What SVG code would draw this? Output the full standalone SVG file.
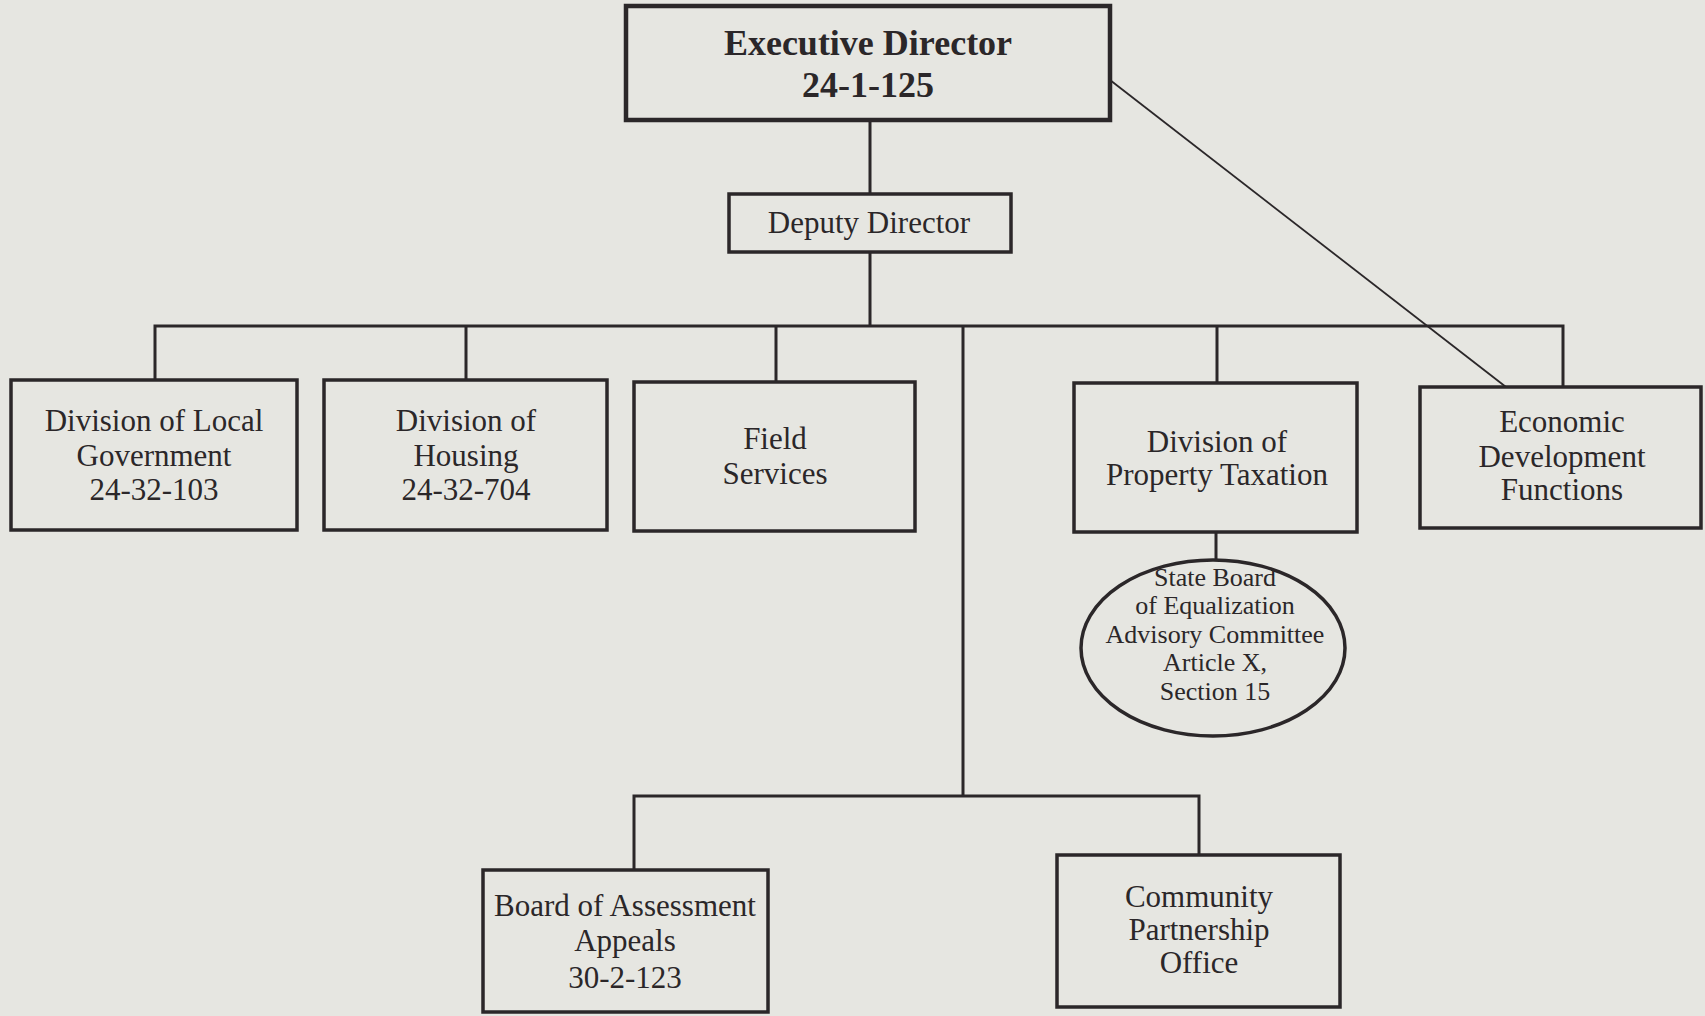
<svg xmlns="http://www.w3.org/2000/svg" width="1705" height="1016" viewBox="0 0 1705 1016">
<style>
.box{fill:none;stroke:#2b2729;stroke-width:3.5}
.conn{fill:none;stroke:#2b2729;stroke-width:3}
.t{font-family:"Liberation Serif","Times New Roman",serif;font-size:31px;fill:#2b2729;text-anchor:middle}
.b{font-weight:bold;font-size:36px}
.s{font-size:26px}
</style>
<rect x="0" y="0" width="1705" height="1016" fill="#e6e6e1"/>
<g id="connectors">
<path class="conn" d="M870 120 V194"/>
<path class="conn" d="M870 252 V326"/>
<path class="conn" d="M155 380 V326 H1563 V387"/>
<path class="conn" d="M466 326 V380"/>
<path class="conn" d="M776 326 V382"/>
<path class="conn" d="M1217 326 V383"/>
<path class="conn" d="M963 326 V796"/>
<path class="conn" d="M634 870 V796 H1199 V855"/>
<path class="conn" d="M1216 532 V560"/>
<path class="conn" style="stroke-width:1.8" d="M1110 80 L1506 387"/>
</g>
<g id="executive-director">
<rect class="box" style="stroke-width:4.5" x="626" y="6" width="484" height="114"/>
<text class="t b" x="868" y="55">Executive Director</text>
<text class="t b" x="868" y="97">24-1-125</text>
</g>
<g id="deputy-director">
<rect class="box" x="729" y="194" width="282" height="58"/>
<text class="t" x="869" y="233">Deputy Director</text>
</g>
<g id="local-government">
<rect class="box" x="11" y="380" width="286" height="150"/>
<text class="t" x="154" y="431">Division of Local</text>
<text class="t" x="154" y="466">Government</text>
<text class="t" x="154" y="500">24-32-103</text>
</g>
<g id="housing">
<rect class="box" x="324" y="380" width="283" height="150"/>
<text class="t" x="466" y="431">Division of</text>
<text class="t" x="466" y="466">Housing</text>
<text class="t" x="466" y="500">24-32-704</text>
</g>
<g id="field-services">
<rect class="box" x="634" y="382" width="281" height="149"/>
<text class="t" x="775" y="449">Field</text>
<text class="t" x="775" y="484">Services</text>
</g>
<g id="property-taxation">
<rect class="box" x="1074" y="383" width="283" height="149"/>
<text class="t" x="1217" y="452">Division of</text>
<text class="t" x="1217" y="485">Property Taxation</text>
</g>
<g id="economic-development">
<rect class="box" x="1420" y="387" width="281" height="141"/>
<text class="t" x="1562" y="432">Economic</text>
<text class="t" x="1562" y="467">Development</text>
<text class="t" x="1562" y="500">Functions</text>
</g>
<g id="state-board-equalization">
<ellipse class="box" cx="1213" cy="648" rx="132" ry="88"/>
<text class="t s" x="1215" y="586">State Board</text>
<text class="t s" x="1215" y="614">of Equalization</text>
<text class="t s" x="1215" y="643">Advisory Committee</text>
<text class="t s" x="1215" y="671">Article X,</text>
<text class="t s" x="1215" y="700">Section 15</text>
</g>
<g id="board-of-assessment-appeals">
<rect class="box" x="483" y="870" width="285" height="142"/>
<text class="t" x="625" y="916">Board of Assessment</text>
<text class="t" x="625" y="951">Appeals</text>
<text class="t" x="625" y="988">30-2-123</text>
</g>
<g id="community-partnership-office">
<rect class="box" x="1057" y="855" width="283" height="152"/>
<text class="t" x="1199" y="907">Community</text>
<text class="t" x="1199" y="940">Partnership</text>
<text class="t" x="1199" y="973">Office</text>
</g>
</svg>
